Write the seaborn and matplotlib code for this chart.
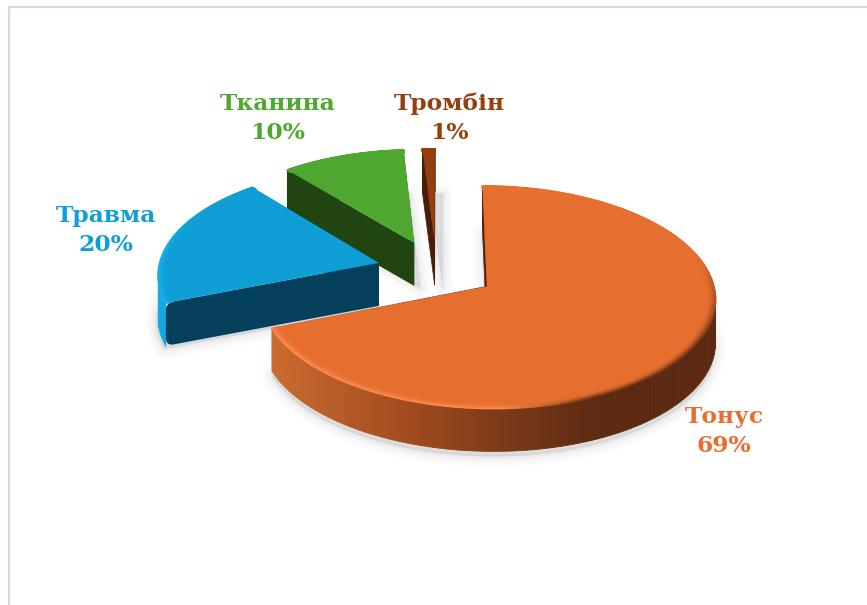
import numpy as np
import matplotlib
matplotlib.use("Agg")
import matplotlib.pyplot as plt
import seaborn as sns
from matplotlib.transforms import Transform
from matplotlib.collections import LineCollection
from matplotlib.colors import to_rgb
from matplotlib.path import Path
from matplotlib.patches import PathPatch

categories = ["Тонус", "Травма", "Тканина", "Тромбін"]
shares = [69, 20, 10, 1]
explode = [0.27, 0.27, 0.28, 0.27]

top_colors = ["#E66F2F", "#0F9ED5", "#4EA72E", "#943F10"]
face_colors = ["#4F2108", "#043F5C", "#214511", "#4A1C05"]
label_xy = {"Тонус": (724, 431), "Травма": (106, 230), "Тканина": (278, 118), "Тромбін": (449, 118)}

CX, CY, SX, SY, K, M = 436.5, 270.0, 222.0, 106.8, 0.0955, -0.005
DEPTH = 43

sns.set_theme(style="white")
plt.rcParams["font.family"] = ["DejaVu Serif"]


def project(x, y):
    w = 1 + K * y + M * x
    return CX + SX * x / w, CY - SY * y / w


class Persp(Transform):
    input_dims = 2
    output_dims = 2
    is_separable = False
    has_inverse = False

    def transform_non_affine(self, xy):
        xy = np.asarray(xy, dtype=float)
        X, Y = project(xy[:, 0], xy[:, 1])
        return np.column_stack([X, Y])


def mix(a, b, t):
    a, b = np.array(to_rgb(a)), np.array(to_rgb(b))
    return tuple(a + (b - a) * float(np.clip(t, 0, 1)))


def orange_wall(x):
    stops_x = [270, 400, 500, 600, 880]
    stops = np.array([to_rgb(c) for c in ["#CB6B31", "#A44C1E", "#7B3A18", "#5C2A13", "#5C2A13"]])
    return tuple(np.interp(x, stops_x, stops[:, i]) for i in range(3))


def toward(p, q, d):
    p, q = np.array(p, float), np.array(q, float)
    return p + (q - p) / np.hypot(*(q - p)) * d


def rounded_face(apex_top, tip_top, tip_bot, apex_bot, r):
    """Radial face whose outer end has rounded corners."""
    a1 = toward(tip_top, apex_top, r)
    a2 = toward(tip_top, tip_bot, r)
    b1 = toward(tip_bot, tip_top, r)
    b2 = toward(tip_bot, apex_bot, r)
    verts = [apex_top, a1, tip_top, a2, b1, tip_bot, b2, apex_bot, apex_top]
    codes = [Path.MOVETO, Path.LINETO, Path.CURVE3, Path.CURVE3, Path.LINETO,
             Path.CURVE3, Path.CURVE3, Path.LINETO, Path.CLOSEPOLY]
    return Path(verts, codes)


fig = plt.figure(figsize=(8.67, 6.05), dpi=100, facecolor="white")
ax = fig.add_axes([0, 0, 1, 1])
wedges, _ = ax.pie(shares, explode=explode, startangle=90, counterclock=False,
                   colors=top_colors, radius=1, wedgeprops={"linewidth": 0})
ax.set_aspect("auto")
ax.set_xlim(0, 867)
ax.set_ylim(605, 0)
ax.axis("off")

persp = Persp()
for w in wedges:
    w.set_transform(persp + ax.transData)


def arc(w, n=160, r=1.0):
    th = np.radians(np.linspace(w.theta1, w.theta2, n))
    return w.center[0] + r * np.cos(th), w.center[1] + r * np.sin(th), th


# soft ground shadow
for w, off in zip(wedges, [(0, 5), (-2, 3), (6, 2), (8, 2)]):
    x, y, _ = arc(w)
    X, Y = project(np.r_[w.center[0], x], np.r_[w.center[1], y])
    for lw, a in [(16, .016), (13, .02), (10, .025), (7, .03), (4, .04), (2, .04)]:
        ax.fill(X + off[0], Y + DEPTH + off[1], color="#808080", alpha=a, lw=lw, zorder=1,
                joinstyle="round")

order = {0: 40, 1: 30, 2: 20, 3: 10}
radii = {0: 0, 1: 8, 2: 4, 3: 0}
for i, w in enumerate(wedges):
    z = order[i]
    # outer wall
    x, y, th = arc(w)
    X, Y = project(x, y)
    for j in range(len(X) - 1):
        if i == 0:
            c = orange_wall(X[j])
        elif i == 1:
            c = "#12A8E3"
        else:
            c = face_colors[i]
        ax.fill([X[j], X[j + 1], X[j + 1], X[j]],
                [Y[j], Y[j + 1], Y[j + 1] + DEPTH, Y[j] + DEPTH],
                color=c, lw=0.6, zorder=z)
    # radial faces
    cX, cY = project(w.center[0], w.center[1])
    if i == 0:
        # the cut at the left tip merges into the wall: shade it like the wall
        tt = np.linspace(0, 1, 60)
        fx = X[0] + (cX - X[0]) * tt
        fy = Y[0] + (cY - Y[0]) * tt
        for j in range(len(tt) - 1):
            ax.fill([fx[j], fx[j + 1], fx[j + 1], fx[j]],
                    [fy[j], fy[j + 1], fy[j + 1] + DEPTH, fy[j] + DEPTH],
                    color=orange_wall(fx[j]), lw=0.6, zorder=z - 1)
        ax.fill([cX, X[-1], X[-1], cX], [cY, Y[-1], Y[-1] + DEPTH, cY + DEPTH],
                color=face_colors[i], lw=0.5, zorder=z + 1)
    else:
        for k in (0, -1):
            r = radii[i]
            if r:
                p = rounded_face((cX, cY), (X[k], Y[k]), (X[k], Y[k] + DEPTH), (cX, cY + DEPTH), r)
                ax.add_patch(PathPatch(p, facecolor=face_colors[i], lw=0, zorder=z + 1))
            else:
                ax.fill([cX, X[k], X[k], cX], [cY, Y[k], Y[k] + DEPTH, cY + DEPTH],
                        color=face_colors[i], lw=0.5, zorder=z + 1)
    w.set_zorder(z + 2)
    # bevel along the rim
    n_layers = 8
    for k in range(n_layers):
        frac = k / n_layers
        xr, yr, th = arc(w, r=1 - 0.035 * frac)
        Xr, Yr = project(xr, yr)
        segs = np.stack([np.column_stack([Xr[:-1], Yr[:-1]]),
                         np.column_stack([Xr[1:], Yr[1:]])], axis=1)
        cols = []
        for xs, t in zip(Xr[:-1], th[:-1]):
            front = np.clip(0.35 - np.sin(t) * 1.3, 0, 1)
            if i == 0:
                dark = np.clip((xs - 500) / 90, 0, 1)
                rim = mix("#FF8F50", "#6A3010", dark)
                s = front
            elif i == 1:
                rim, s = "#16B3F2", np.clip(1 - (xs - 160) / 45, 0, 1)
            else:
                rim, s = top_colors[i], 0
            cols.append(mix(top_colors[i], rim, s * (1 - frac) ** 1.2))
        ax.add_collection(LineCollection(segs, colors=cols, linewidths=1.4, zorder=z + 3,
                                         capstyle="round"))

# labels
for name, share, col in zip(categories, shares, top_colors):
    lx, ly = label_xy[name]
    ax.text(lx, ly - 14, name, color=col, ha="center", va="center",
            fontsize=16.8, fontweight="bold", zorder=60)
    ax.text(lx, ly + 15, f"{share}%", color=col, ha="center", va="center",
            fontsize=16.8, fontweight="bold", zorder=60)

# chart frame (top and left only, the rest lies outside the crop)
ax.plot([9, 9, 867], [605, 7, 7], color="#D9D9D9", lw=1.6, zorder=70, solid_joinstyle="miter")

fig.savefig("out.png", dpi=100, facecolor="white")
